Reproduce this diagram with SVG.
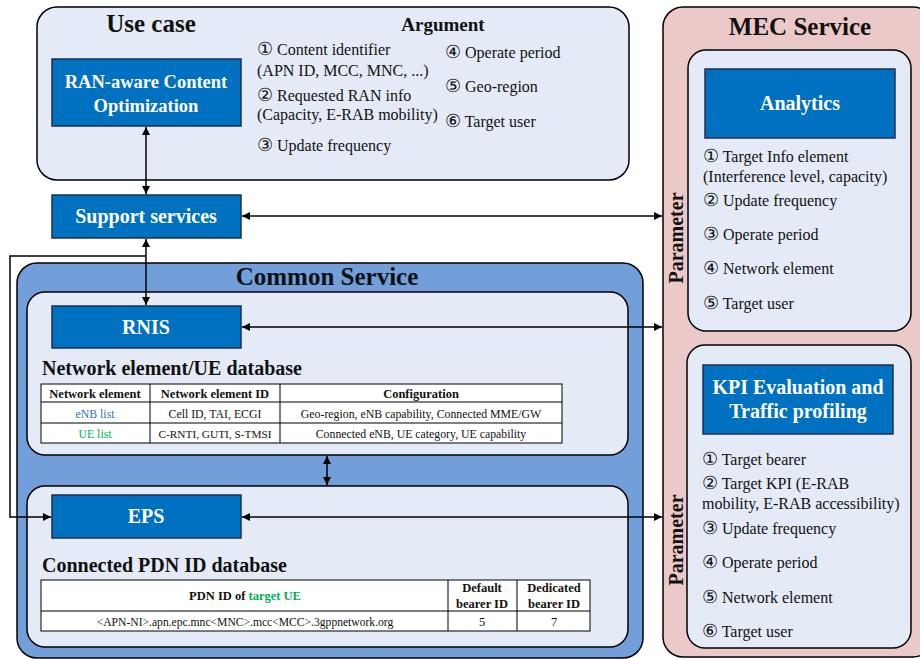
<svg xmlns="http://www.w3.org/2000/svg" width="920" height="659" viewBox="0 0 920 659">
<defs>
<marker id="ah" viewBox="0 0 10 10" refX="10" refY="5" markerWidth="9" markerHeight="8" markerUnits="userSpaceOnUse" orient="auto-start-reverse">
<path d="M0,0 L10,5 L0,10 z" fill="#000"/>
</marker>
<style>
text{font-family:"Liberation Serif","DejaVu Serif",serif;fill:#111}
.title{font-size:25px;font-weight:bold}
.sub{font-size:20px;font-weight:bold}
.item{font-size:16px}
.num{font-size:18px}
.node{fill:#0070c0;stroke:#1f2f4f;stroke-width:1.5}
.nt{fill:#fff;font-size:20px;font-weight:bold;text-anchor:middle}
.light{fill:#e5ebf6;stroke:#000;stroke-width:1.5}
.th{font-size:12.5px;font-weight:bold;text-anchor:middle}
.td{font-size:11.8px;text-anchor:middle}
.cell{fill:#fff;stroke:#000;stroke-width:1}
.conn{fill:none;stroke:#000;stroke-width:1.5}
</style>
</defs>

<g id="use-case">
<rect class="light" x="37" y="7" width="592" height="173" rx="20"/>
<text class="title" x="151" y="32" text-anchor="middle">Use case</text>
<text class="sub" x="443" y="31" text-anchor="middle" style="font-size:19px">Argument</text>
<text class="item" x="257" y="55"><tspan class="num">①</tspan> Content identifier</text>
<text class="item" x="257" y="76">(APN ID, MCC, MNC, ...)</text>
<text class="item" x="257" y="101"><tspan class="num">②</tspan> Requested RAN info</text>
<text class="item" x="257" y="120">(Capacity, E-RAB mobility)</text>
<text class="item" x="257" y="151"><tspan class="num">③</tspan> Update frequency</text>
<text class="item" x="445" y="58"><tspan class="num">④</tspan> Operate period</text>
<text class="item" x="445" y="92"><tspan class="num">⑤</tspan> Geo-region</text>
<text class="item" x="445" y="127"><tspan class="num">⑥</tspan> Target user</text>
</g>

<g id="ran-aware">
<rect class="node" x="52" y="59" width="189" height="67"/>
<text class="nt" x="146" y="88" style="font-size:18.5px">RAN-aware Content</text>
<text class="nt" x="146" y="112" style="font-size:18.5px">Optimization</text>
</g>

<g id="support-services">
<rect class="node" x="52" y="195" width="189" height="43"/>
<text class="nt" x="146" y="223">Support services</text>
</g>

<g id="common-service">
<rect x="17" y="263" width="626" height="395" rx="20" fill="#729fd9" stroke="#000" stroke-width="1.5"/>
<text class="title" x="327" y="285" text-anchor="middle">Common Service</text>
</g>

<g id="rnis-panel">
<rect class="light" x="27" y="292" width="601" height="163" rx="18"/>
<text class="sub" x="42" y="375">Network element/UE database</text>
<g id="ne-table">
<rect class="cell" x="41" y="384" width="521" height="59" stroke-width="2"/>
<line x1="41" y1="402" x2="562" y2="402" stroke="#000" stroke-width="1"/>
<line x1="41" y1="423" x2="562" y2="423" stroke="#000" stroke-width="1"/>
<line x1="150" y1="384" x2="150" y2="443" stroke="#000" stroke-width="1"/>
<line x1="280" y1="384" x2="280" y2="443" stroke="#000" stroke-width="1"/>
<text class="th" x="95" y="398">Network element</text>
<text class="th" x="215" y="398">Network element ID</text>
<text class="th" x="421" y="398">Configuration</text>
<text class="td" x="95" y="418" style="fill:#2e75b6">eNB list</text>
<text class="td" x="215" y="418">Cell ID, TAI, ECGI</text>
<text class="td" x="421" y="418">Geo-region, eNB capability, Connected MME/GW</text>
<text class="td" x="95" y="438" style="fill:#00b050">UE list</text>
<text class="td" x="215" y="438" style="font-size:11.3px">C-RNTI, GUTI, S-TMSI</text>
<text class="td" x="421" y="438">Connected eNB, UE category, UE capability</text>
</g>
</g>

<g id="rnis">
<rect class="node" x="52" y="306" width="189" height="42"/>
<text class="nt" x="146" y="334">RNIS</text>
</g>

<g id="eps-panel">
<rect class="light" x="27" y="486" width="601" height="161" rx="18"/>
<text class="sub" x="42" y="572">Connected PDN ID database</text>
<g id="pdn-table">
<rect class="cell" x="41" y="580" width="549" height="51" stroke-width="2"/>
<line x1="41" y1="611" x2="590" y2="611" stroke="#000" stroke-width="1"/>
<line x1="448" y1="580" x2="448" y2="631" stroke="#000" stroke-width="1"/>
<line x1="517" y1="580" x2="517" y2="631" stroke="#000" stroke-width="1"/>
<text class="th" x="245" y="600">PDN ID of <tspan style="fill:#00b050">target UE</tspan></text>
<text class="th" x="482" y="592">Default</text>
<text class="th" x="482" y="608">bearer ID</text>
<text class="th" x="554" y="592">Dedicated</text>
<text class="th" x="554" y="608">bearer ID</text>
<text class="td" x="245" y="626" style="font-size:11.6px">&lt;APN-NI&gt;.apn.epc.mnc&lt;MNC&gt;.mcc&lt;MCC&gt;.3gppnetwork.org</text>
<text class="td" x="482" y="626" style="font-size:12.5px">5</text>
<text class="td" x="554" y="626" style="font-size:12.5px">7</text>
</g>
</g>

<g id="eps">
<rect class="node" x="52" y="495" width="189" height="43"/>
<text class="nt" x="146" y="523">EPS</text>
</g>

<g id="mec-service">
<rect x="663" y="7" width="270" height="650" rx="20" fill="#ecc9c9" stroke="#000" stroke-width="1.5"/>
<text class="title" x="800" y="35" text-anchor="middle">MEC Service</text>
<text class="sub" transform="translate(683,238) rotate(-90)" text-anchor="middle">Parameter</text>
<text class="sub" transform="translate(683,540) rotate(-90)" text-anchor="middle">Parameter</text>
</g>

<g id="analytics-panel">
<rect class="light" x="688" y="50" width="223" height="281" rx="18"/>
<text class="item" x="703" y="162"><tspan class="num">①</tspan> Target Info element</text>
<text class="item" x="703" y="182">(Interference level, capacity)</text>
<text class="item" x="703" y="206"><tspan class="num">②</tspan> Update frequency</text>
<text class="item" x="703" y="240"><tspan class="num">③</tspan> Operate period</text>
<text class="item" x="703" y="274"><tspan class="num">④</tspan> Network element</text>
<text class="item" x="703" y="309"><tspan class="num">⑤</tspan> Target user</text>
</g>

<g id="analytics">
<rect class="node" x="705" y="69" width="190" height="69"/>
<text class="nt" x="800" y="110">Analytics</text>
</g>

<g id="kpi-panel">
<rect class="light" x="687" y="345" width="224" height="303" rx="18"/>
<text class="item" x="702" y="465"><tspan class="num">①</tspan> Target bearer</text>
<text class="item" x="702" y="489"><tspan class="num">②</tspan> Target KPI (E-RAB</text>
<text class="item" x="702" y="509">mobility, E-RAB accessibility)</text>
<text class="item" x="702" y="534"><tspan class="num">③</tspan> Update frequency</text>
<text class="item" x="702" y="568"><tspan class="num">④</tspan> Operate period</text>
<text class="item" x="702" y="603"><tspan class="num">⑤</tspan> Network element</text>
<text class="item" x="702" y="637"><tspan class="num">⑥</tspan> Target user</text>
</g>

<g id="kpi">
<rect class="node" x="703" y="365" width="190" height="69"/>
<text class="nt" x="798" y="394">KPI Evaluation and</text>
<text class="nt" x="798" y="418">Traffic profiling</text>
</g>

<g id="connectors">
<line class="conn" x1="146" y1="127" x2="146" y2="194" marker-start="url(#ah)" marker-end="url(#ah)"/>
<line class="conn" x1="242" y1="216" x2="662" y2="216" marker-start="url(#ah)" marker-end="url(#ah)"/>
<line class="conn" x1="146" y1="239" x2="146" y2="305" marker-start="url(#ah)" marker-end="url(#ah)"/>
<line class="conn" x1="242" y1="327" x2="662" y2="327" marker-start="url(#ah)" marker-end="url(#ah)"/>
<line class="conn" x1="327" y1="456" x2="327" y2="485" marker-start="url(#ah)" marker-end="url(#ah)"/>
<line class="conn" x1="242" y1="517" x2="662" y2="517" marker-start="url(#ah)" marker-end="url(#ah)"/>
<polyline class="conn" points="146,256 10,256 10,517 51,517" marker-end="url(#ah)"/>
</g>
</svg>
